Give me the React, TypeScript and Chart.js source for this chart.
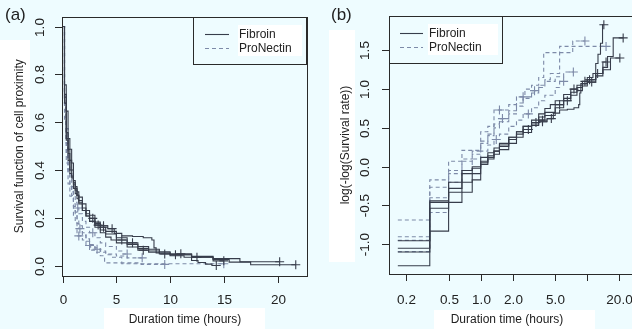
import React, { useEffect, useRef } from "react";
import { Chart, registerables } from "chart.js";
Chart.register(...registerables);

const BG = "#eefcff";
const SOLID = "#373d4b";
const DASHED = "#7d8aa8";
const INK = "#222222";
const FONT = "'Liberation Sans', Arial, Helvetica, sans-serif";

// ---- Data: event times (hours) and log(-log(S)) per curve ----
const fibroin1Times = [0.167, 0.333, 0.5, 0.667, 0.833, 1.0, 1.167, 1.333, 1.5, 1.833, 2.167, 2.5, 3.0, 3.5, 4.2, 4.8, 5.5, 6.5, 7.5, 8.3, 8.5, 8.7, 10, 12, 14];
const fibroin1LogLog = [-1.276, -0.83, -0.46, -0.33, -0.17, 0.05, 0.12, 0.2, 0.28, 0.38, 0.45, 0.52, 0.55, 0.58, 0.62, 0.69, 0.73, 0.74, 0.76, 0.8, 0.95, 1.07, 1.12, 1.2, 1.35];
const fibroin1Censored = [3.8, 4.6, 15];

const fibroin2Times = [0.167, 0.333, 0.5, 0.667, 0.833, 1.0, 1.167, 1.333, 1.5, 1.833, 2.167, 2.5, 3, 3.5, 4, 4.5, 5, 6, 7, 8, 9, 10, 11.3, 12, 12.6, 13.3, 13.9];
const fibroin2LogLog = [-1.052, -0.44, -0.2, -0.05, 0.0, 0.12, 0.18, 0.24, 0.3, 0.38, 0.45, 0.52, 0.6, 0.68, 0.75, 0.8, 0.85, 0.93, 1.0, 1.05, 1.1, 1.15, 1.2, 1.33, 1.45, 1.59, 1.83];
const fibroin2Censored = [7.5, 9.5, 14.3];

const fibroin3Times = [0.167, 0.333, 0.5, 0.667, 0.833, 1.0, 1.167, 1.333, 1.5, 1.833, 2.167, 2.5, 3, 3.5, 4, 5, 6, 7, 8, 9, 10, 12, 14, 15.5, 17.5];
const fibroin3LogLog = [-0.954, -0.46, -0.28, -0.09, -0.02, 0.07, 0.14, 0.2, 0.26, 0.35, 0.42, 0.48, 0.57, 0.64, 0.7, 0.8, 0.88, 0.96, 1.02, 1.07, 1.12, 1.2, 1.28, 1.42, 1.66];
const fibroin3Censored = [2.8, 3.3, 5.5, 10.5, 12.5, 21.7];

const fibroin4Times = [0.167, 0.333, 0.5, 0.667, 0.833, 1.0, 1.167, 1.333, 1.5, 1.833, 2.167, 2.5, 3, 3.5, 4, 5, 6, 7, 8, 9, 10, 12, 14, 16.5];
const fibroin4LogLog = [-1.1, -0.536, -0.33, -0.2, -0.09, 0.03, 0.1, 0.16, 0.22, 0.3, 0.38, 0.44, 0.53, 0.6, 0.66, 0.76, 0.85, 0.92, 0.98, 1.04, 1.09, 1.17, 1.25, 1.4];
const fibroin4Censored = [3.8, 6.5, 11, 20.2];

const proNectin1Times = [0.167, 0.333, 0.5, 0.667, 1.0, 1.167, 1.333, 1.833, 2.167, 2.6, 3.0, 3.5, 3.9, 7.3];
const proNectin1LogLog = [-0.687, -0.17, 0.07, 0.21, 0.45, 0.52, 0.73, 0.8, 0.9, 1.0, 1.05, 1.15, 1.47, 1.62];
const proNectin1Censored = [1.5, 9.5];

const proNectin2Times = [0.167, 0.333, 0.5, 0.667, 0.833, 1.0, 1.167, 1.333, 1.5, 1.833, 2.167, 2.5, 3, 3.5, 4, 4.5, 5.5];
const proNectin2LogLog = [-0.902, -0.4, -0.09, 0.07, 0.16, 0.3, 0.4, 0.5, 0.58, 0.68, 0.78, 0.88, 0.98, 1.05, 1.12, 1.2, 1.55];
const proNectin2Censored = [3.2, 15];

const proNectin3Times = [0.167, 0.333, 0.5, 0.667, 0.833, 1.0, 1.167, 1.333, 1.5, 1.833, 2.167, 2.5, 3, 3.5, 4, 5, 6];
const proNectin3LogLog = [-0.95, -0.265, -0.05, 0.1, 0.2, 0.33, 0.42, 0.55, 0.62, 0.72, 0.82, 0.9, 0.95, 1.02, 1.1, 1.16, 1.22];
const proNectin3Censored = [1.6, 2.5, 7.4];

const proNectin4Times = [0.167, 0.333, 0.5, 0.667, 0.833, 1.0, 1.167, 1.333, 1.5, 1.833, 2.167, 2.5, 3, 3.5, 4, 5, 5.5];
const proNectin4LogLog = [-1.095, -0.59, -0.2, -0.05, 0.1, 0.2, 0.28, 0.35, 0.42, 0.52, 0.6, 0.68, 0.76, 0.85, 0.92, 1.02, 1.1];
const proNectin4Censored = [1.4, 2.8, 6.0];

// ---- Tick labels ----
const aXTickValues = [0, 5, 10, 15, 20];
const aYTickValues = [0, 0.2, 0.4, 0.6, 0.8, 1.0];
const aYTickLabels = ["0.0", "0.2", "0.4", "0.6", "0.8", "1.0"];
const bXTickValues = [0.2, 0.5, 1, 2, 5, 10, 20];
const bXTickLabels = ["0.2", "0.5", "1.0", "2.0", "5.0", "", "20.0"];
const bYTickValues = [-1, -0.5, 0, 0.5, 1, 1.5];
const bYTickLabels = ["-1.0", "-0.5", "0.0", "0.5", "1.0", "1.5"];

const legendLabels = ["Fibroin", "ProNectin"];

type Curve = { times: number[]; loglog: number[]; censored: number[]; dashed: boolean };
const curves: Curve[] = [
  { times: fibroin1Times, loglog: fibroin1LogLog, censored: fibroin1Censored, dashed: false },
  { times: fibroin2Times, loglog: fibroin2LogLog, censored: fibroin2Censored, dashed: false },
  { times: fibroin3Times, loglog: fibroin3LogLog, censored: fibroin3Censored, dashed: false },
  { times: fibroin4Times, loglog: fibroin4LogLog, censored: fibroin4Censored, dashed: false },
  { times: proNectin1Times, loglog: proNectin1LogLog, censored: proNectin1Censored, dashed: true },
  { times: proNectin2Times, loglog: proNectin2LogLog, censored: proNectin2Censored, dashed: true },
  { times: proNectin3Times, loglog: proNectin3LogLog, censored: proNectin3Censored, dashed: true },
  { times: proNectin4Times, loglog: proNectin4LogLog, censored: proNectin4Censored, dashed: true },
];

type Pt = { x: number; y: number; c: boolean };
function curvePoints(c: Curve): Pt[] {
  const pts: Pt[] = c.times.map((t, i) => ({ x: t, y: c.loglog[i], c: false }));
  for (const ct of c.censored) {
    let v = c.loglog[0];
    for (let i = 0; i < c.times.length; i++) if (c.times[i] <= ct) v = c.loglog[i];
    pts.push({ x: ct, y: v, c: true });
  }
  pts.sort((a, b) => a.x - b.x);
  return pts;
}

function buildDatasets(panel: "a" | "b") {
  return curves.map((c) => {
    let pts = curvePoints(c);
    if (panel === "a") {
      pts = [{ x: 0, y: 1, c: false }, ...pts.map((p) => ({ x: p.x, y: Math.exp(-Math.exp(p.y)), c: p.c }))];
    }
    const col = c.dashed ? DASHED : SOLID;
    return {
      data: pts.map((p) => ({ x: p.x, y: p.y })),
      stepped: true as const,
      borderColor: col,
      backgroundColor: col,
      borderWidth: 1.1,
      borderDash: c.dashed ? [4, 3] : [],
      pointStyle: "cross" as const,
      pointRadius: pts.map((p) => (p.c ? 4.5 : 0)),
      pointBorderWidth: 1.1,
      pointBorderColor: col,
      pointHoverRadius: 0,
      fill: false,
      tension: 0,
    };
  });
}

type Cfg = {
  key: string;
  offsetX: number;
  whiteRects: number[][];
  xTicks: number[];
  xLabels: string[];
  yTicks: number[];
  yLabels: string[];
  yLabelX: number;
  xTitle: string;
  xTitleX: number;
  yTitle: string;
  yTitleX: number;
  letter: string;
  letterX: number;
  legend: { left: number; top: number; right: number; bottom: number; lineX1: number; lineX2: number; textX: number };
};

function makePlugin(cfg: Cfg) {
  return {
    id: "rstyle" + cfg.key,
    beforeDraw(chart: any) {
      const ctx = chart.ctx;
      ctx.save();
      ctx.fillStyle = BG;
      ctx.fillRect(0, 0, chart.width, chart.height);
      ctx.fillStyle = "#ffffff";
      for (const r of cfg.whiteRects) ctx.fillRect(r[0], r[1], r[2], r[3]);
      ctx.restore();
    },
    afterDraw(chart: any) {
      const ctx = chart.ctx;
      const a = chart.chartArea;
      const xs = chart.scales.x;
      const ys = chart.scales.y;
      ctx.save();
      ctx.strokeStyle = "#2a2a2a";
      ctx.lineWidth = 1;
      ctx.setLineDash([]);
      ctx.strokeRect(Math.round(a.left) + 0.5, Math.round(a.top) + 0.5, Math.round(a.right - a.left), Math.round(a.bottom - a.top));
      // x ticks
      ctx.fillStyle = INK;
      ctx.font = "13.5px " + FONT;
      ctx.textAlign = "center";
      ctx.textBaseline = "middle";
      cfg.xTicks.forEach((v, i) => {
        const px = Math.round(xs.getPixelForValue(v)) + 0.5;
        ctx.beginPath();
        ctx.moveTo(px, Math.round(a.bottom));
        ctx.lineTo(px, Math.round(a.bottom) + 7);
        ctx.stroke();
        if (cfg.xLabels[i]) ctx.fillText(cfg.xLabels[i], px, 300);
      });
      // y ticks
      cfg.yTicks.forEach((v, i) => {
        const py = Math.round(ys.getPixelForValue(v)) + 0.5;
        ctx.beginPath();
        ctx.moveTo(Math.round(a.left), py);
        ctx.lineTo(Math.round(a.left) - 7, py);
        ctx.stroke();
        ctx.save();
        ctx.translate(cfg.yLabelX, py);
        ctx.rotate(-Math.PI / 2);
        ctx.fillText(cfg.yLabels[i], 0, 0);
        ctx.restore();
      });
      // titles
      ctx.font = "12px " + FONT;
      ctx.fillText(cfg.xTitle, cfg.xTitleX, 320);
      ctx.save();
      ctx.translate(cfg.yTitleX, (a.top + a.bottom) / 2);
      ctx.rotate(-Math.PI / 2);
      ctx.fillText(cfg.yTitle, 0, 0);
      ctx.restore();
      // panel letter
      ctx.font = "17px " + FONT;
      ctx.textAlign = "left";
      ctx.fillText(cfg.letter, cfg.letterX, 15);
      // legend
      const L = cfg.legend;
      ctx.fillStyle = BG;
      ctx.fillRect(L.left, L.top, L.right - L.left, L.bottom - L.top);
      ctx.fillStyle = "#ffffff";
      ctx.fillRect(L.textX - 1, L.top + 8, L.right - L.textX - 3, 31);
      ctx.strokeStyle = "#2a2a2a";
      ctx.strokeRect(L.left + 0.5, L.top + 0.5, L.right - L.left, L.bottom - L.top);
      const rows = [L.top + 17.5, L.top + 31.5];
      ctx.font = "12px " + FONT;
      ctx.textAlign = "left";
      legendLabels.forEach((lab, i) => {
        ctx.strokeStyle = i === 0 ? SOLID : DASHED;
        ctx.lineWidth = 1.1;
        ctx.setLineDash(i === 0 ? [] : [4, 3]);
        ctx.beginPath();
        ctx.moveTo(L.lineX1, rows[i]);
        ctx.lineTo(L.lineX2, rows[i]);
        ctx.stroke();
        ctx.fillStyle = INK;
        ctx.fillText(lab, L.textX, rows[i]);
      });
      ctx.restore();
    },
  };
}

function PanelChart(props: {
  panel: "a" | "b";
  width: number;
  cfg: Cfg;
  xType: "linear" | "logarithmic";
  xMin: number;
  xMax: number;
  yMin: number;
  yMax: number;
  yAxisWidth: number;
  xAxisHeight: number;
  padding: { top: number; right: number; left: number; bottom: number };
}) {
  const ref = useRef<HTMLCanvasElement | null>(null);
  useEffect(() => {
    if (!ref.current) return;
    const chart = new Chart(ref.current, {
      type: "line",
      data: { datasets: buildDatasets(props.panel) as any },
      options: {
        animation: false,
        responsive: false,
        devicePixelRatio: 1,
        events: [],
        layout: { padding: props.padding },
        plugins: { legend: { display: false }, tooltip: { enabled: false }, title: { display: false } },
        scales: {
          x: {
            type: props.xType,
            min: props.xMin,
            max: props.xMax,
            grid: { display: false },
            border: { display: false },
            ticks: { display: false },
            afterFit: (s: any) => {
              s.height = props.xAxisHeight;
            },
          },
          y: {
            type: "linear",
            min: props.yMin,
            max: props.yMax,
            grid: { display: false },
            border: { display: false },
            ticks: { display: false },
            afterFit: (s: any) => {
              s.width = props.yAxisWidth;
            },
          },
        },
      } as any,
      plugins: [makePlugin(props.cfg)],
    });
    return () => chart.destroy();
  }, []);
  return <canvas ref={ref} width={props.width} height={329} style={{ width: props.width, height: 329, display: "block" }} />;
}

const cfgA: Cfg = {
  key: "a",
  offsetX: 0,
  whiteRects: [
    [104, 308, 161, 21],
    [0, 40, 30, 230],
  ],
  xTicks: aXTickValues,
  xLabels: aXTickValues.map(String),
  yTicks: aYTickValues,
  yLabels: aYTickLabels,
  yLabelX: 40,
  xTitle: "Duration time (hours)",
  xTitleX: 185,
  yTitle: "Survival function of cell proximity",
  yTitleX: 20,
  letter: "(a)",
  letterX: 5,
  legend: { left: 193, top: 17, right: 306, bottom: 64, lineX1: 205, lineX2: 229, textX: 239 },
};

const cfgB: Cfg = {
  key: "b",
  offsetX: 316,
  whiteRects: [
    [13, 30, 26, 232],
    [118, 310, 161, 19],
  ],
  xTicks: bXTickValues,
  xLabels: bXTickLabels,
  yTicks: bYTickValues,
  yLabels: bYTickLabels,
  yLabelX: 49,
  xTitle: "Duration time (hours)",
  xTitleX: 191,
  yTitle: "log(-log(Survival rate))",
  yTitleX: 30,
  letter: "(b)",
  letterX: 15,
  legend: { left: 73, top: 16, right: 186, bottom: 63, lineX1: 84, lineX2: 107, textX: 113 },
};

export default function App() {
  return (
    <div style={{ position: "fixed", left: 0, top: 0, width: 632, height: 329, background: BG, overflow: "hidden" }}>
      <div style={{ position: "absolute", left: 0, top: 0, width: 316, height: 329, overflow: "hidden" }}>
        <PanelChart
          panel="a"
          width={316}
          cfg={cfgA}
          xType="linear"
          xMin={-0.065}
          xMax={22.7}
          yMin={-0.04}
          yMax={1.04}
          yAxisWidth={62}
          xAxisHeight={53.5}
          padding={{ top: 17, right: 9.5, left: 0, bottom: 0 }}
        />
      </div>
      <div style={{ position: "absolute", left: 316, top: 0, width: 316, height: 329, overflow: "hidden" }}>
        <PanelChart
          panel="b"
          width={330}
          cfg={cfgB}
          xType="logarithmic"
          xMin={0.138}
          xMax={26.84}
          yMin={-1.383}
          yMax={1.942}
          yAxisWidth={73}
          xAxisHeight={55}
          padding={{ top: 16, right: 13, left: 0, bottom: 0 }}
        />
      </div>
    </div>
  );
}
